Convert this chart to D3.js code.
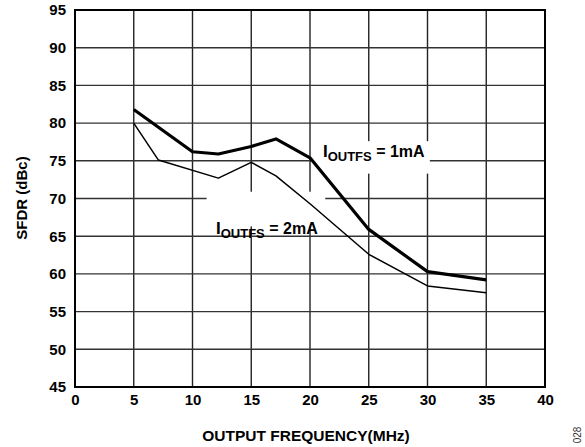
<!DOCTYPE html>
<html><head><meta charset="utf-8">
<script src="https://cdn.jsdelivr.net/npm/d3@7"></script>
<style>body{margin:0;background:#fff}svg{display:block;font-family:"Liberation Sans",Arial,sans-serif}</style>
</head><body>
<svg id="c" width="585" height="447"></svg>
<script>
const xTicks = [0,5,10,15,20,25,30,35,40];
const yTicks = [45,50,55,60,65,70,75,80,85,90,95];
const freq1mA = [5, 10, 12.2, 15, 17.1, 20, 25, 30, 35];
const sfdr1mA = [81.8, 76.2, 75.9, 76.9, 77.9, 75.4, 65.9, 60.3, 59.2];
const freq2mA = [5, 7.1, 12.2, 15, 17.1, 20, 25, 30, 35];
const sfdr2mA = [80.0, 75.1, 72.7, 74.8, 73.0, 69.3, 62.6, 58.4, 57.5];
const labels = [
  {name:"I", sub:"OUTFS", rest:" = 1mA", fx:21.1, fy:75.5, box:[20.15,77.6,30.2,73.3]},
  {name:"I", sub:"OUTFS", rest:" = 2mA", fx:12.0, fy:65.3, box:[11.2,70.9,21.3,66.3]}
];

const svg = d3.select("#c");
const L=75, R=545, T=10, B=387;
const x = d3.scaleLinear().domain([0,40]).range([L,R]);
const y = d3.scaleLinear().domain([45,95]).range([B,T]);

// grid
const g = svg.append("g");
g.selectAll(".vg").data(xTicks.slice(1,-1)).join("line")
  .attr("x1",d=>x(d)).attr("x2",d=>x(d)).attr("y1",T).attr("y2",B)
  .attr("stroke","#222").attr("stroke-width",1.4);
g.selectAll(".hg").data(yTicks.slice(1,-1)).join("line")
  .attr("y1",d=>y(d)).attr("y2",d=>y(d)).attr("x1",L).attr("x2",R)
  .attr("stroke","#333").attr("stroke-width",1.4);

// label boxes
labels.forEach(l=>{
  svg.append("rect").attr("x",x(l.box[0])).attr("y",y(l.box[1]))
    .attr("width",x(l.box[2])-x(l.box[0])).attr("height",y(l.box[3])-y(l.box[1]))
    .attr("fill","#fff");
});

// frame
svg.append("rect").attr("x",L).attr("y",T).attr("width",R-L).attr("height",B-T)
  .attr("fill","none").attr("stroke","#000").attr("stroke-width",2);

// axes labels
const xAxis = d3.axisBottom(x).tickValues(xTicks).tickSize(0).tickPadding(7);
const xa = svg.append("g").attr("transform",`translate(0,${B})`).call(xAxis);
xa.select(".domain").remove();
xa.selectAll("text").attr("font-size",15).attr("font-weight","bold").attr("fill","#000")
  .attr("font-family","Liberation Sans, Arial, sans-serif");
const yAxis = d3.axisLeft(y).tickValues(yTicks).tickSize(0).tickPadding(9);
const ya = svg.append("g").attr("transform",`translate(${L},0)`).call(yAxis);
ya.select(".domain").remove();
ya.selectAll("text").attr("font-size",15).attr("font-weight","bold").attr("fill","#000")
  .attr("font-family","Liberation Sans, Arial, sans-serif");

// lines
const line = d3.line().x(d=>x(d[0])).y(d=>y(d[1]));
svg.append("path").datum(d3.zip(freq2mA,sfdr2mA)).attr("d",line)
  .attr("fill","none").attr("stroke","#000").attr("stroke-width",1.5).attr("stroke-linejoin","round");
svg.append("path").datum(d3.zip(freq1mA,sfdr1mA)).attr("d",line)
  .attr("fill","none").attr("stroke","#000").attr("stroke-width",3.2).attr("stroke-linejoin","round");

// in-plot labels
labels.forEach(l=>{
  const t = svg.append("text").attr("x",x(l.fx)).attr("y",y(l.fy))
    .attr("font-weight","bold").attr("fill","#000");
  t.append("tspan").attr("font-size",17).text(l.name);
  t.append("tspan").attr("font-size",13).attr("dy",4).text(l.sub);
  t.append("tspan").attr("font-size",16).attr("dy",-4).text(l.rest);
});

// titles
svg.append("text").attr("x",306).attr("y",441).attr("text-anchor","middle")
  .attr("font-size",15.5).attr("font-weight","bold").text("OUTPUT FREQUENCY(MHz)");
svg.append("text").attr("transform","translate(27,198) rotate(-90)").attr("text-anchor","middle")
  .attr("font-size",15).attr("font-weight","bold").text("SFDR (dBc)");
svg.append("text").attr("transform","translate(581,435) rotate(-90)").attr("text-anchor","middle")
  .attr("font-size",10).attr("fill","#333").text("028");
</script>
</body></html>
